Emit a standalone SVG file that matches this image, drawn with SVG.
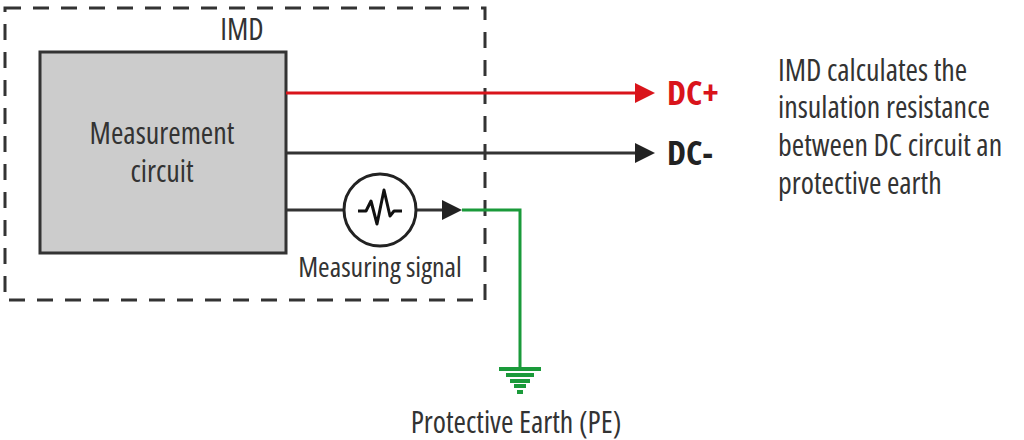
<svg xmlns="http://www.w3.org/2000/svg" width="1024" height="440" viewBox="0 0 1024 440">
<style>
text{font-family:"Open Sans","Liberation Sans",sans-serif;font-stretch:condensed;fill:#333}
.w{stroke:#333;stroke-width:3;fill:none}
</style>
<rect width="1024" height="440" fill="#fff"/>
<g id="imd"><rect x="5" y="8" width="480" height="292" fill="none" stroke="#333" stroke-width="3" stroke-dasharray="16,12"/><text x="242" y="40" font-size="30" text-anchor="middle">IMD</text></g>
<g id="measurement"><rect x="40" y="52" width="246" height="201" fill="#ccc" stroke="#333" stroke-width="3"/><text x="162" y="144" font-size="30" text-anchor="middle">Measurement</text><text x="162" y="182" font-size="30" text-anchor="middle">circuit</text></g>
<g id="connectors">
<line x1="286" y1="93" x2="640" y2="93" stroke="#d9141b" stroke-width="3"/>
<path d="M635,83 L655,93 L635,103z" fill="#d9141b"/>
<line x1="286" y1="153" x2="640" y2="153" class="w"/>
<path d="M635,143 L655,153 L635,163z" fill="#222"/>
<line x1="286" y1="210" x2="344" y2="210" class="w"/>
<line x1="416" y1="210" x2="445" y2="210" class="w"/>
<path d="M442,200 L462,210 L442,220z" fill="#222"/>
<polyline points="462,210 520,210 520,369" fill="none" stroke="#1a9a3a" stroke-width="3"/>
</g>
<g id="signal"><circle cx="380" cy="210" r="36" fill="#fff" stroke="#222" stroke-width="3"/>
<polyline points="358,211 366,211 371,201 377,224 384,190 390,216 394,211 402,211" fill="none" stroke="#111" stroke-width="3" stroke-linejoin="round"/>
<text x="380" y="277" font-size="28" text-anchor="middle">Measuring signal</text></g>
<g id="dcplus"><text x="667" y="105" font-size="34" font-weight="bold" style="fill:#d9141b">DC+</text></g>
<g id="dcminus"><text x="667" y="165" font-size="34" font-weight="bold" style="fill:#222">DC-</text></g>
<g id="pe"><g stroke="#1a9a3a" stroke-width="4"><line x1="499" y1="369" x2="541" y2="369"/><line x1="506" y1="375" x2="534" y2="375"/><line x1="510" y1="381" x2="530" y2="381"/><line x1="514" y1="386" x2="526" y2="386"/><line x1="517" y1="392" x2="523" y2="392"/></g>
<text x="516" y="433" font-size="30" text-anchor="middle">Protective Earth (PE)</text></g>
<g id="note" font-size="30"><text x="778" y="81">IMD calculates the</text><text x="778" y="118">insulation resistance</text><text x="778" y="156">between DC circuit an</text><text x="778" y="194">protective earth</text></g>
</svg>
